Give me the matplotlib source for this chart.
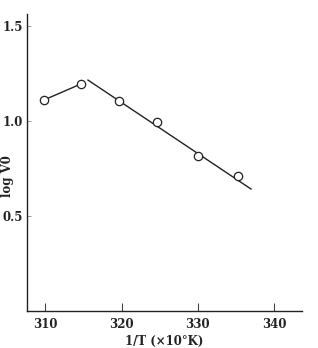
import matplotlib
matplotlib.use("Agg")
import matplotlib.pyplot as plt

# data
inv_T = [309.8, 314.7, 319.7, 324.7, 330.1, 335.3]
log_v0 = [1.11, 1.195, 1.105, 0.995, 0.815, 0.71]
seg1_x = [309.8, 314.7]
seg1_y = [1.11, 1.195]
fit_x = [315.6, 337.0]
fit_y = [1.215, 0.642]
xticks = [310, 320, 330, 340]
yticks = [0.5, 1.0, 1.5]

font = {"family": "DejaVu Serif", "weight": "bold"}

fig = plt.figure(figsize=(3.18, 3.48), dpi=100)
ax = fig.add_axes([0.085, 0.106, 0.865, 0.854])

ax.plot(seg1_x, seg1_y, color="#222222", lw=1.0, zorder=2)
ax.plot(fit_x, fit_y, color="#222222", lw=1.0, zorder=2)
ax.plot(inv_T, log_v0, ls="none", marker="o", ms=6, mfc="white",
        mec="#222222", mew=0.9, zorder=3)

ax.set_xlim(307.6, 343.7)
ax.set_ylim(0.0, 1.563)
ax.spines["top"].set_visible(False)
ax.spines["right"].set_visible(False)
for s in ("left", "bottom"):
    ax.spines[s].set_linewidth(1.0)
    ax.spines[s].set_color("#222222")

ax.set_xticks(xticks)
ax.set_yticks(yticks)
ax.set_xticklabels([str(t) for t in xticks], fontdict=font, fontsize=8.5, color="#222222")
ax.set_yticklabels(["0.5", "1.0", "1.5"], fontdict=font, fontsize=8.5, color="#222222")
ax.tick_params(axis="x", direction="in", length=6, width=0.8, pad=5, color="#444444")
ax.tick_params(axis="y", direction="in", length=3, width=0.6, pad=3, color="#888888")

ax.set_xlabel("1/T (×10°K)", fontdict=font, fontsize=8.5, color="#222222", labelpad=3)
fig.text(0.004, 0.494, "log V0", rotation=90, ha="left", va="center",
         fontdict=font, fontsize=8.5, color="#222222")

fig.savefig("out.png", dpi=100)
